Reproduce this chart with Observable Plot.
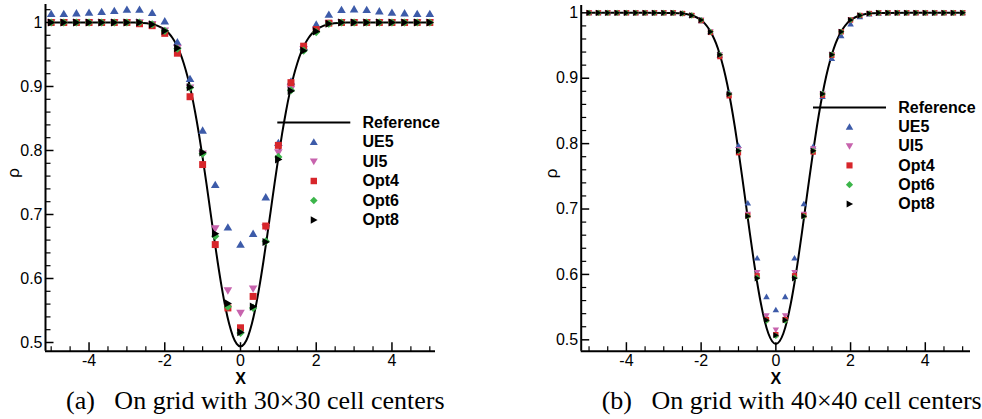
<!DOCTYPE html>
<html><head><meta charset="utf-8">
<script src="https://cdn.jsdelivr.net/npm/d3@7"></script>
<script src="https://cdn.jsdelivr.net/npm/@observablehq/plot@0.6"></script>
<style>
body{margin:0;background:#fff;}
#fig{position:relative;width:982px;height:419px;overflow:hidden;background:#fff;}
.panel{position:absolute;top:0;}
.cap{position:absolute;top:391.2px;font-family:"Liberation Serif","Times New Roman",serif;font-size:26px;line-height:20px;white-space:pre;color:#000;}
</style></head><body>
<div id="fig">
<div id="pa" class="panel" style="left:0px"></div>
<div id="pb" class="panel" style="left:520px"></div>
<div class="cap" style="left:66px">(a)   On grid with 30×30 cell centers</div>
<div class="cap" style="left:601.7px">(b)   On grid with 40×40 cell centers</div>
</div>
<script>
const seriesNames = ["UE5", "UI5", "Opt4", "Opt6", "Opt8"];
const seriesColors = ["#3d5ba9", "#c763ad", "#d7262b", "#3cb54a", "#000000"];

// Reference solution
const refX = [-5,-4,-3.5,-3,-2.8,-2.6,-2.4,-2.2,-2,-1.9,-1.8,-1.7,-1.6,-1.5,-1.4,-1.3,-1.2,-1.1,-1,-0.9,-0.8,-0.7,-0.6,-0.5,-0.4,-0.3,-0.2,-0.1,0,0.1,0.2,0.3,0.4,0.5,0.6,0.7,0.8,0.9,1,1.1,1.2,1.3,1.4,1.5,1.6,1.7,1.8,1.9,2,2.2,2.4,2.6,2.8,3,3.5,4,5];
const refRho = [1,1,1,0.9999,0.9998,0.9993,0.9981,0.9951,0.9888,0.9835,0.9761,0.9662,0.9532,0.9364,0.9156,0.8904,0.8606,0.8266,0.7889,0.7485,0.7066,0.6648,0.6246,0.5877,0.5555,0.5292,0.5097,0.4978,0.4938,0.4978,0.5097,0.5292,0.5555,0.5877,0.6246,0.6648,0.7066,0.7485,0.7889,0.8266,0.8606,0.8904,0.9156,0.9364,0.9532,0.9662,0.9761,0.9835,0.9888,0.9951,0.9981,0.9993,0.9998,0.9999,1,1,1];

// Panel (a): 30x30 grid
const xA = [-5,-4.667,-4.333,-4,-3.667,-3.333,-3,-2.667,-2.333,-2,-1.667,-1.333,-1,-0.667,-0.333,0,0.333,0.667,1,1.333,1.667,2,2.333,2.667,3,3.333,3.667,4,4.333,4.667,5];
const ue5A = [1.0136,1.0136,1.0145,1.0156,1.0167,1.0183,1.0203,1.0203,1.0152,1.0020,0.9692,0.9120,0.8313,0.7464,0.680,0.653,0.670,0.727,0.812,0.908,0.962,0.997,1.0125,1.0198,1.0208,1.0198,1.0177,1.0156,1.0146,1.0135,1.0135];
const ui5A = [1,1,1,1,1,1,1,1,0.997,0.987,0.960,0.898,0.795,0.678,0.581,0.546,0.584,0.680,0.797,0.896,0.958,0.986,0.998,1,1,1,1,1,1,1,1];
const opt4A = [1,1,1,1,1,1,1,0.998,0.995,0.983,0.952,0.884,0.778,0.653,0.554,0.523,0.572,0.682,0.808,0.906,0.963,0.989,0.999,1,1,1,1,1,1,1,1];
const opt6A = [1,1,1,1,1,1,1,1,0.997,0.987,0.959,0.898,0.795,0.666,0.556,0.515,0.554,0.658,0.790,0.894,0.956,0.985,0.998,1,1,1,1,1,1,1,1];
const opt8A = [1,1,1,1,1,1,1,1,0.997,0.987,0.960,0.899,0.797,0.670,0.561,0.516,0.556,0.657,0.786,0.893,0.956,0.986,0.998,1,1,1,1,1,1,1,1];

// Panel (b): 40x40 grid
const xB = [-5,-4.75,-4.5,-4.25,-4,-3.75,-3.5,-3.25,-3,-2.75,-2.5,-2.25,-2,-1.75,-1.5,-1.25,-1,-0.75,-0.5,-0.25,0,0.25,0.5,0.75,1,1.25,1.5,1.75,2,2.25,2.5,2.75,3,3.25,3.5,3.75,4,4.25,4.5,4.75,5];
const ue5B = [1,1,1,1,1,1,1,1,1,1,0.999,0.996,0.988,0.971,0.935,0.878,0.797,0.709,0.625,0.566,0.546,0.566,0.625,0.708,0.796,0.872,0.930,0.965,0.983,0.994,0.998,0.9995,1,1,1,1,1,1,1,1,1];
const ui5B = [1,1,1,1,1,1,1,1,1,1,0.999,0.996,0.989,0.971,0.936,0.875,0.791,0.692,0.603,0.537,0.515,0.537,0.603,0.692,0.792,0.876,0.936,0.971,0.989,0.996,0.999,1,1,1,1,1,1,1,1,1,1];
const opt4B = [1,1,1,1,1,1,1,1,1,1,0.999,0.996,0.988,0.970,0.933,0.873,0.786,0.690,0.598,0.531,0.508,0.531,0.598,0.690,0.787,0.874,0.935,0.971,0.989,0.996,0.999,1,1,1,1,1,1,1,1,1,1];
const opt6B = [1,1,1,1,1,1,1,1,1,1,0.999,0.996,0.989,0.971,0.936,0.876,0.789,0.689,0.595,0.529,0.506,0.529,0.595,0.689,0.789,0.876,0.936,0.971,0.989,0.996,0.999,1,1,1,1,1,1,1,1,1,1];
const opt8B = [1,1,1,1,1,1,1,1,1,1,0.999,0.996,0.989,0.971,0.936,0.876,0.789,0.689,0.594,0.530,0.507,0.530,0.594,0.689,0.789,0.876,0.936,0.971,0.989,0.996,0.999,1,1,1,1,1,1,1,1,1,1];

// Ticks
const yMajor = [0.5, 0.6, 0.7, 0.8, 0.9, 1];
const yMinorA = [0.52,0.54,0.56,0.58,0.62,0.64,0.66,0.68,0.72,0.74,0.76,0.78,0.82,0.84,0.86,0.88,0.92,0.94,0.96,0.98,1.02];
const yMinorB = [0.52,0.54,0.56,0.58,0.62,0.64,0.66,0.68,0.72,0.74,0.76,0.78,0.82,0.84,0.86,0.88,0.92,0.94,0.96,0.98];
const xMajor = [-4, -2, 0, 2, 4];
const xMinor = [-5,-4.5,-3.5,-3,-2.5,-1.5,-1,-0.5,0.5,1,1.5,2.5,3,3.5,4.5,5];

// Symbols
function polySym(fn) {
  return {draw(ctx, size) {
    const r = Math.sqrt(size / Math.PI);
    const p = fn(r);
    ctx.moveTo(p[0][0], p[0][1]);
    for (let i = 1; i < p.length; i++) ctx.lineTo(p[i][0], p[i][1]);
    ctx.closePath();
  }};
}
const triUp = polySym(r => [[0, -r], [r * 1.05, r * 0.8], [-r * 1.05, r * 0.8]]);
const triDown = polySym(r => [[0, r], [r * 1.05, -r * 0.8], [-r * 1.05, -r * 0.8]]);
const square = polySym(r => [[-0.85 * r, -0.85 * r], [0.85 * r, -0.85 * r], [0.85 * r, 0.85 * r], [-0.85 * r, 0.85 * r]]);
const diamond = polySym(r => [[0, -r], [r, 0], [0, r], [-r, 0]]);
const triRight = polySym(r => [[r, 0], [-0.8 * r, -r], [-0.8 * r, r]]);
const symbols = [triUp, triDown, square, diamond, triRight];
const hTick = len => ({draw(ctx) { ctx.moveTo(0, 0); ctx.lineTo(len, 0); }});
const vTick = len => ({draw(ctx) { ctx.moveTo(0, 0); ctx.lineTo(0, -len); }});
const hLine = len => ({draw(ctx) { ctx.moveTo(-len / 2, 0); ctx.lineTo(len / 2, 0); }});

function makePanel(o) {
  const refData = refX.map((x, i) => ({x, y: refRho[i]}));
  const marks = [
    Plot.line(refData, {x: "x", y: "y", curve: "monotone-x", stroke: "black", strokeWidth: 2}),
    ...o.series.map((vals, k) => Plot.dot(o.xs.map((x, i) => ({x, y: vals[i]})),
      {x: "x", y: "y", symbol: symbols[k], r: o.r, fill: seriesColors[k], stroke: "none"})),
    Plot.ruleX([o.xDomain[0]], {stroke: "black", strokeWidth: 2}),
    Plot.ruleY([o.yDomain[0]], {stroke: "black", strokeWidth: 2}),
    Plot.dot(yMajor, {y: d => d, frameAnchor: "left", symbol: hTick(8), stroke: "black", strokeWidth: 1.5}),
    Plot.dot(o.yMinor, {y: d => d, frameAnchor: "left", symbol: hTick(5), stroke: "black", strokeWidth: 1.2}),
    Plot.dot(xMajor, {x: d => d, frameAnchor: "bottom", symbol: vTick(9), stroke: "black", strokeWidth: 1.5}),
    Plot.dot(xMinor, {x: d => d, frameAnchor: "bottom", symbol: vTick(5), stroke: "black", strokeWidth: 1.2}),
    Plot.axisX({ticks: xMajor, tickSize: 0, tickPadding: 3, tickFormat: d => String(d), label: null}),
    Plot.axisY({ticks: yMajor, tickSize: 0, tickPadding: 3, tickFormat: d => String(d), label: null}),
    Plot.text(["X"], {frameAnchor: "bottom", dy: 27.5, fontWeight: "bold", fontSize: 16, lineAnchor: "middle"}),
    Plot.text(["ρ"], {frameAnchor: "left", dx: o.rhoDx, rotate: -90, fontSize: 17, lineAnchor: "middle"}),
    // Legend
    Plot.dot([0], {frameAnchor: "top-left", dx: 268.3, dy: o.legY, symbol: hLine(73), stroke: "black", strokeWidth: 2}),
    Plot.text(["Reference"], {frameAnchor: "top-left", dx: 317, dy: o.legY, textAnchor: "start", lineAnchor: "middle", fontWeight: "bold", fontSize: 16})
  ];
  seriesNames.forEach((name, k) => {
    const dy = o.legY + o.legStep * (k + 1);
    marks.push(Plot.dot([0], {frameAnchor: "top-left", dx: 268.3, dy, symbol: symbols[k], r: o.legR, fill: seriesColors[k], stroke: "none"}));
    marks.push(Plot.text([name], {frameAnchor: "top-left", dx: 317, dy, textAnchor: "start", lineAnchor: "middle", fontWeight: "bold", fontSize: 16}));
  });
  return Plot.plot({
    width: o.width, height: 385,
    marginLeft: o.mL, marginRight: o.mR, marginTop: o.mT, marginBottom: 385 - 350.7,
    x: {domain: o.xDomain, label: null},
    y: {domain: o.yDomain, label: null},
    style: {background: "transparent", fontFamily: "'Liberation Sans', Arial, sans-serif", fontSize: "16px", color: "black", overflow: "visible"},
    marks
  });
}

document.getElementById("pa").append(makePanel({
  xs: xA, series: [ue5A, ui5A, opt4A, opt6A, opt8A],
  xDomain: [-5.15, 5.15], yDomain: [0.4864, 1.0281],
  width: 450, mL: 45, mR: 15, mT: 4, r: 4.1, legR: 3.8,
  rhoDx: -32, yMinor: yMinorA, legY: 118, legStep: 19.5
}));
document.getElementById("pb").append(makePanel({
  xs: xB, series: [ue5B, ui5B, opt4B, opt6B, opt8B],
  xDomain: [-5.21, 5.21], yDomain: [0.4826, 1.0112],
  width: 462, mL: 60.7, mR: 12, mT: 5, r: 3.1, legR: 3.6,
  rhoDx: -29.5, yMinor: yMinorB, legY: 102, legStep: 19.3
}));
</script>
</body></html>
